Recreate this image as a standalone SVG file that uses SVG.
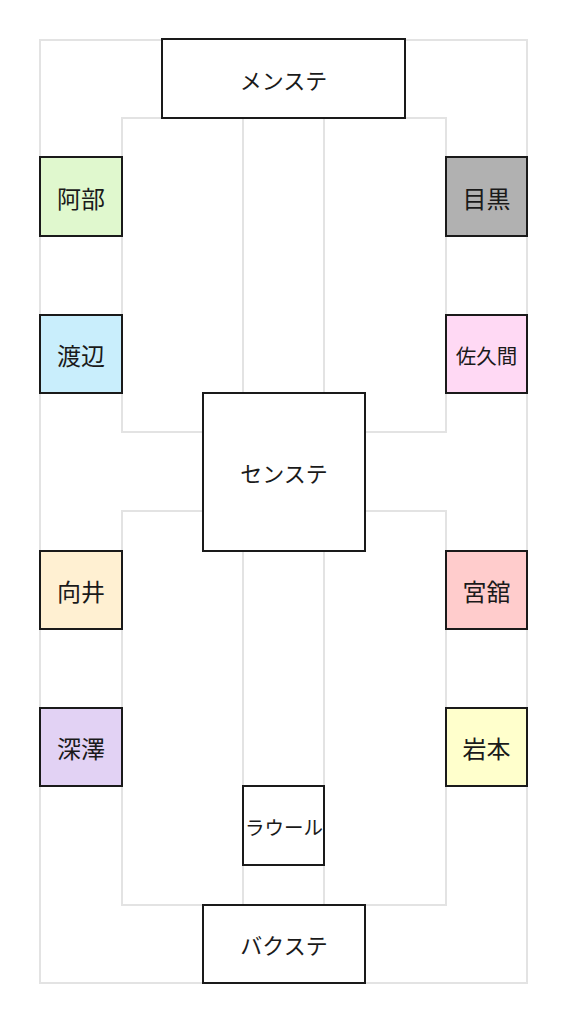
<svg xmlns="http://www.w3.org/2000/svg" width="570" height="1024" viewBox="0 0 570 1024">
<style>
.grid{fill:none;stroke:#e3e3e3;stroke-width:2}
.box{stroke:#1a1a1a;stroke-width:2}
.t{font-family:"Noto Sans CJK JP","Noto Sans",sans-serif;fill:#1a1a1a;text-anchor:middle;dominant-baseline:central}
.m{font-size:24px}
.s{font-size:22px}
</style>
<rect width="570" height="1024" fill="#ffffff"/>
<g id="connectors">
<rect class="grid" x="40" y="40" width="487" height="943"/>
<rect class="grid" x="122" y="118" width="324" height="314"/>
<rect class="grid" x="122" y="511" width="324" height="394"/>
<line class="grid" x1="243" y1="118" x2="243" y2="393"/>
<line class="grid" x1="324" y1="118" x2="324" y2="393"/>
<line class="grid" x1="243" y1="551" x2="243" y2="905"/>
<line class="grid" x1="324" y1="551" x2="324" y2="905"/>
</g>
<g id="mainstage"><rect class="box" x="162" y="39" width="243" height="79" fill="#ffffff"/><text class="t s" x="283.5" y="79">メンステ</text></g>
<g id="centerstage"><rect class="box" x="203" y="393" width="162" height="158" fill="#ffffff"/><text class="t s" x="284" y="472">センステ</text></g>
<g id="backstage"><rect class="box" x="203" y="905" width="162" height="78" fill="#ffffff"/><text class="t s" x="284" y="944">バクステ</text></g>
<g id="raoul"><rect class="box" x="243" y="786" width="81" height="79" fill="#ffffff"/><text class="t" font-size="19.5" x="284" y="826">ラウール</text></g>
<g id="abe"><rect class="box" x="40" y="157" width="82" height="79" fill="#e0f8ce"/><text class="t m" x="81" y="197">阿部</text></g>
<g id="meguro"><rect class="box" x="446" y="157" width="81" height="79" fill="#b1b1b1"/><text class="t m" x="486.5" y="197">目黒</text></g>
<g id="watanabe"><rect class="box" x="40" y="315" width="82" height="78" fill="#c9eefc"/><text class="t m" x="81" y="354">渡辺</text></g>
<g id="sakuma"><rect class="box" x="446" y="315" width="81" height="78" fill="#ffd9f4"/><text class="t" font-size="20.5" x="486.5" y="355">佐久間</text></g>
<g id="mukai"><rect class="box" x="40" y="551" width="82" height="78" fill="#fff0d2"/><text class="t m" x="81" y="590">向井</text></g>
<g id="miyadate"><rect class="box" x="446" y="551" width="81" height="78" fill="#ffcccc"/><text class="t m" x="486.5" y="590">宮舘</text></g>
<g id="fukazawa"><rect class="box" x="40" y="708" width="82" height="78" fill="#e2d2f4"/><text class="t m" x="81" y="747">深澤</text></g>
<g id="iwamoto"><rect class="box" x="446" y="708" width="81" height="78" fill="#ffffcc"/><text class="t m" x="486.5" y="747">岩本</text></g>
</svg>
